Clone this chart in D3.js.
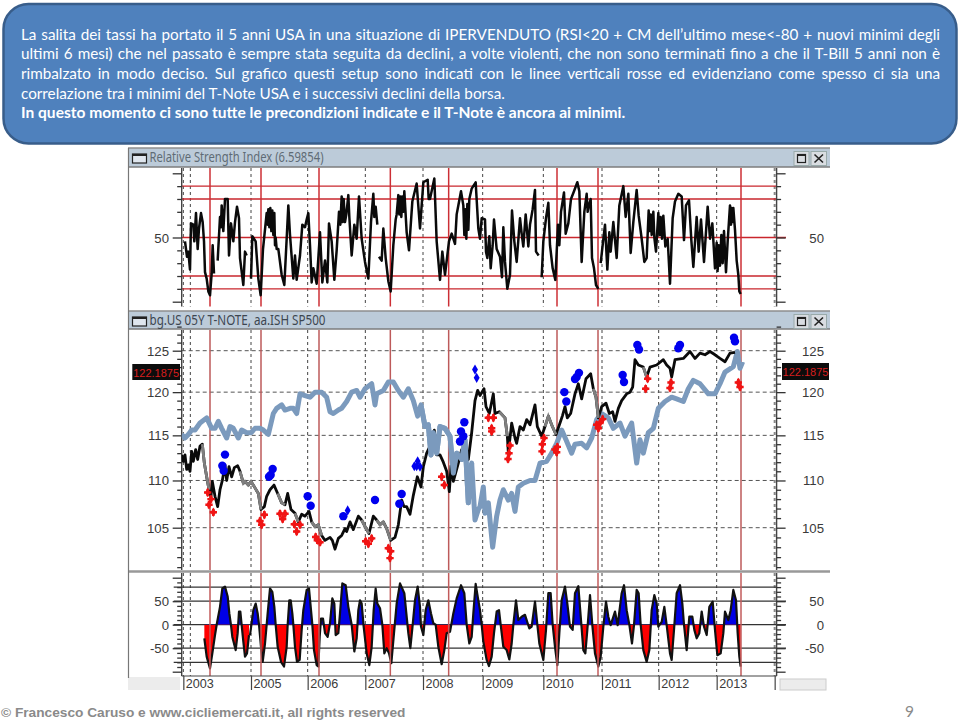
<!DOCTYPE html>
<html><head><meta charset="utf-8">
<script src="https://cdn.jsdelivr.net/npm/d3@7/dist/d3.min.js"></script>
<style>html,body{margin:0;padding:0;background:#fff}svg{display:block}</style>
</head><body><svg id="c" width="960" height="720"></svg>
<script>
const bannerLines = [
 "La salita dei tassi ha portato il 5 anni USA in una situazione di IPERVENDUTO (RSI<20 + CM dell’ultimo mese<-80 + nuovi minimi degli",
 "ultimi 6 mesi) che nel passato è sempre stata seguita da declini, a volte violenti, che non sono terminati fino a che il T-Bill 5 anni non è",
 "rimbalzato in modo deciso. Sul grafico questi setup sono indicati con le linee verticali rosse ed evidenziano come spesso ci sia una",
 "correlazione tra i minimi del T-Note USA e i successivi declini della borsa."];
const bannerBold = "In questo momento ci sono tutte le precondizioni indicate e il T-Note è ancora ai minimi.";
const footerText = "© Francesco Caruso e www.cicliemercati.it, all rights reserved";
const pageNumber = "9";
const rsiTitle = "Relative Strength Index (6.59854)";
const priceTitle = "bg.US 05Y T-NOTE, aa.ISH SP500";
const lastPrice = "122.1875";

// time axis: session number of each year start
const yearTicks = [[175,"2003"],[196,""],[378,"2005"],[548,"2006"],[721,"2007"],[894,"2008"],[1073,"2009"],[1255,"2010"],[1431,"2011"],[1601,"2012"],[1775,"2013"],[1949,""]];
const setupSessions = [255,408,582,796,971,1296,1419,1848];
const rsiLevels = [90,80,50,20,10];
const rsiTicks = [100,90,80,70,60,50,40,30,20,10,0];
const priceLabels = [125,120,115,110,105];
const priceMinor = [128,127,126,125,124,123,122,121,120,119,118,117,116,115,114,113,112,111,110,109,108,107,106,105,104,103,102,101];
const oscTicks = [100,90,80,70,60,50,40,30,20,10,0,-10,-20,-30,-40,-50,-60,-70,-80,-90,-100];
const oscLevels = [80,50,0,-50,-80];
const oscLabels = [50,0,-50];

// [session, value], null = gap
const rsiSeries = [[180,47],[186,35],[190,39],[195,25],[198,61],[205,60],[208,47],[213,69],[218,41],[222,57],[228,69],[233,62],[237,47],[240,23],[245,18],[250,8],[255,5],[260,22],[263,44],[267,22],null,[278,32],[285,66],[288,58],[290,75],[295,55],[300,80],[308,80],[312,36],[318,61],[325,47],[330,62],[336,74],[342,65],[345,34],[355,13],[360,39],[365,36],null,[378,18],[382,51],[392,47],[400,18],[407,5],[414,41],[425,69],[428,60],[430,72],[433,58],[436,73],[439,55],[442,71],[445,52],[448,69],[450,44],[452,50],[455,41],[460,41],[470,21],[478,13],[485,49],[490,75],[495,52],[505,18],[510,36],[515,17],[525,36],[532,60],[540,58],[545,64],[550,69],[555,44],[560,15],[565,26],[575,14],[585,54],[592,15],[600,32],[607,15],[612,61],[620,47],[628,17],[635,40],[642,70],[646,60],[650,82],[653,62],[656,80],[660,62],[664,68],[670,83],[673,66],[680,36],[688,60],[695,49],[702,82],[710,49],[720,31],[730,18],[738,62],[745,84],[748,66],[752,74],[757,60],null,[762,35],[770,32],[775,57],[782,34],[790,16],[797,8],[805,44],[812,64],[815,68],[820,83],[823,68],[826,82],[829,66],[832,82],[835,70],[838,86],[845,54],[852,40],[862,78],[875,92],[885,57],[895,93],[908,95],[911,80],[915,80],[928,96],[935,47],[945,17],[952,39],[960,21],[972,47],[980,53],[990,45],[995,68],[1000,75],[1008,86],[1015,75],[1018,52],[1021,72],[1024,49],[1027,76],[1030,56],[1033,80],[1040,88],[1052,93],[1060,57],[1065,49],[1070,65],[1080,64],[1083,39],[1087,34],[1093,51],[1097,26],[1103,44],[1107,64],[1115,41],[1125,35],[1131,19],[1135,58],[1140,31],[1147,10],[1155,21],[1161,71],[1168,47],[1175,31],[1185,65],[1190,53],[1195,43],[1202,68],[1210,43],[1215,60],[1223,72],[1230,87],[1233,39],[1241,36],null,[1250,19],[1255,47],[1263,65],[1270,77],[1275,44],[1283,26],[1291,17],[1299,60],[1303,44],[1308,70],[1317,85],[1322,53],[1330,61],[1338,80],[1347,86],[1357,93],[1363,86],[1370,31],[1378,70],[1385,84],[1388,70],[1390,73],[1397,80],[1401,34],[1407,26],[1413,13],[1420,10],null,[1427,30],[1433,44],[1440,60],[1447,25],[1453,54],[1457,39],[1465,62],[1475,34],[1483,75],[1495,90],[1502,66],[1510,84],[1517,38],[1525,62],[1535,87],[1541,67],[1550,49],[1558,31],[1565,34],[1571,71],[1574,55],[1577,68],[1580,52],[1585,70],[1588,50],[1593,39],[1600,69],[1604,52],[1607,66],[1611,49],[1615,67],[1621,43],[1628,49],[1635,14],[1643,65],[1650,78],[1660,84],[1670,82],[1677,48],[1683,75],[1692,79],[1699,48],[1705,27],[1715,66],[1721,39],[1728,64],[1737,31],[1748,74],[1755,49],[1762,61],[1770,26],[1775,46],[1778,24],[1781,44],[1785,28],[1789,52],[1793,30],[1797,55],[1803,23],[1808,47],[1815,75],[1818,60],[1820,73],[1823,62],[1825,73],[1830,56],[1835,32],[1840,21],[1843,8],[1847,6]];

const noteSeries = [[170,112.8],[175,112.1],[180,112.8],[185,111.2],[190,111.7],[195,111],[200,113.2],[205,112.1],[212,113.4],[218,112.3],[225,113.8],[232,114],[238,111.9],[245,110.4],[252,109],[258,108.3],[262,109.9],[270,108.3],[278,107.2],[285,109],[292,110],[300,111.7],[305,110],[312,111.5],[320,110.4],[328,111.4],[338,111.6],[345,111],[355,109.7],[360,109.9],[370,109.5],[378,109.9],[390,109.2],[400,108.6],[408,106.9],[418,107.2],[425,108.3],[435,109],[447,109.5],[458,108.6],[470,107.6],[480,107.4],[488,108.6],[498,106.9],[510,106.5],[520,105.6],[530,106.4],[540,106.2],[552,106.7],[560,105.6],[570,105.1],[580,105.3],[590,104.2],[600,103.7],[615,104],[622,103.7],[630,102.8],[640,103.9],[650,104.2],[660,104.9],[665,104.6],[675,105.6],[685,104.8],[700,106.2],[710,105.8],[725,104.8],[732,104.4],[745,106.2],[755,105.8],[765,105.3],[775,105.6],[785,104.9],[797,103.7],[810,104],[820,105.3],[830,107.9],[837,107.2],[845,107.2],[855,106.4],[865,108.4],[877,110.4],[888,109.3],[895,111.5],[905,113],[915,113.8],[928,115.6],[935,112.8],[945,112.8],[955,112],[965,111],[973,108.8],[978,111.6],[985,109.9],[1000,111.9],[1010,113.4],[1020,112.8],[1030,112.3],[1040,115.3],[1050,119],[1058,120.2],[1065,119.6],[1077,120.4],[1083,118.3],[1093,117.5],[1105,119.8],[1110,117.5],[1123,117.7],[1140,117],[1147,114.9],[1150,113],[1160,116.4],[1170,114.7],[1175,114.1],[1185,116],[1195,115.6],[1205,116.8],[1215,116.2],[1230,118.5],[1237,116],[1250,114.9],[1260,116],[1270,117.2],[1280,116.2],[1293,115.1],[1305,116.4],[1312,117.2],[1320,118.3],[1327,117],[1337,117.5],[1350,119.8],[1360,121],[1370,119.2],[1383,121.6],[1397,122.2],[1405,120.4],[1413,119.4],[1420,117],[1430,118.3],[1443,118.7],[1453,117.5],[1463,117.7],[1470,116.6],[1480,118.1],[1490,119],[1505,119.8],[1515,120],[1523,120.6],[1530,123.9],[1540,123.25],[1555,123],[1565,121.8],[1575,123],[1595,123.25],[1615,123.9],[1625,123.25],[1635,122.85],[1640,121.8],[1650,123.9],[1675,124.05],[1695,124.9],[1710,124.05],[1725,124.7],[1740,124.5],[1755,124.9],[1770,124.5],[1785,124.05],[1800,123.65],[1815,124.7],[1830,124.8]];

const noteFallingSpans = [[232,255],[345,408],[458,480],[510,520],[560,595],[710,732],[755,797],[1115,1147],[1260,1293],[1405,1421],[1545,1565]];

const indexSeries = [[170,115.1],[180,114.7],[190,115.1],[200,115.6],[210,115.6],[225,116.4],[245,117],[260,115.8],[270,115.8],[280,116.6],[290,115.8],[305,114.7],[315,116],[325,115.8],[340,114.7],[350,115.6],[365,115.3],[378,115.3],[390,115.8],[405,115.8],[415,115.6],[430,115.1],[445,117.5],[455,118.1],[470,118.5],[480,117.9],[495,118.1],[505,118.1],[515,117.5],[525,119.8],[540,119.6],[555,119.4],[570,120],[590,120],[605,119.4],[615,117.7],[625,117.5],[640,117.9],[650,118.1],[665,118.9],[680,120],[695,120.2],[705,119.4],[720,120.4],[740,121],[750,118.5],[755,119.8],[775,120.2],[790,121.2],[805,121.2],[820,120.2],[835,119.4],[850,120.4],[865,119],[878,117.2],[888,118.5],[900,116],[910,116.2],[918,112.8],[925,115.3],[935,113],[945,116],[960,115.8],[975,114.9],[985,110.8],[995,113],[1010,112.3],[1020,114.5],[1030,107.6],[1040,111.9],[1050,105.8],[1060,106.9],[1065,107.2],[1075,109.3],[1080,106.5],[1090,107.6],[1103,103],[1115,106.2],[1125,107.9],[1135,109],[1150,107.9],[1160,108.6],[1170,106.7],[1180,109.3],[1195,109.7],[1215,110],[1230,110],[1245,111.9],[1265,112.1],[1280,113],[1295,114.1],[1310,115.6],[1323,114.5],[1340,113],[1350,114],[1370,114.1],[1385,113.6],[1400,114.7],[1415,116.8],[1430,117.5],[1450,117],[1465,115.8],[1485,116.4],[1500,114.9],[1520,116.4],[1535,111.9],[1545,114.5],[1555,113],[1570,115.3],[1585,115.8],[1600,118.1],[1620,118.9],[1640,119.4],[1655,119.2],[1675,118.9],[1690,120.4],[1705,121.4],[1725,121],[1750,119.8],[1770,119.8],[1785,121],[1800,122.4],[1825,123.05],[1837,124.9],[1845,122.85],[1853,123.65]];

const oscSeries = [[238,-29],[245,-68],[255,-93],[262,-61],[270,-22],[275,0],[285,38],[292,77],[300,81],[308,60],[313,24],[318,-1],[322,-26],[332,-54],[338,-18],[342,28],[346,28],[350,-1],[355,-36],[360,-68],[366,-61],[372,-22],null,[375,-22],[385,31],[392,45],[398,24],[402,0],[408,-47],[413,-79],[420,-40],[428,24],[435,77],[442,70],[448,38],[452,0],[458,-47],[468,-79],[477,-89],[485,-47],[488,0],[493,52],[497,52],[502,24],[505,0],[510,-47],[516,-79],[524,-75],[530,-11],[535,31],[545,74],[552,77],[558,31],[562,0],[567,-54],[575,-86],[580,-89],[584,-26],[588,13],[594,13],[600,-18],[608,-26],[615,3],[622,56],[628,45],[632,-22],[640,-18],[645,24],[652,88],[662,84],[670,38],[680,0],[688,-57],[695,-29],[700,31],[705,52],[710,45],[716,-4],[725,-61],[733,-86],[740,-47],[746,31],[752,77],[757,45],[765,35],[772,0],[778,-61],[785,-50],[792,-61],[799,-82],[807,-18],[815,45],[825,88],[838,67],[845,17],[850,-18],[856,-50],[862,-8],[870,52],[878,81],[885,38],[888,-4],[895,-22],[902,31],[910,52],[918,24],[925,3],[932,0],[940,-47],[950,-84],[958,-54],[965,-18],[975,-15],[985,24],[995,56],[1008,84],[1018,67],[1025,0],[1033,-40],[1040,-26],[1045,24],[1052,87],[1058,60],[1065,31],[1070,0],[1075,-36],[1085,-75],[1092,-88],[1100,-68],[1107,-18],[1115,28],[1122,31],[1127,0],[1135,-47],[1145,-54],[1153,-74],[1160,-40],[1165,0],[1173,52],[1180,10],[1190,17],[1200,21],[1213,-8],[1220,-4],[1230,49],[1237,0],[1243,-40],[1255,-75],[1263,-11],[1270,67],[1277,67],[1283,0],[1290,-47],[1297,-86],[1303,-18],[1310,52],[1320,81],[1327,45],[1335,-4],[1343,-11],[1350,67],[1360,82],[1368,10],[1375,-54],[1381,-61],[1387,-11],[1395,63],[1402,-1],[1410,-61],[1420,-89],[1427,-68],[1435,-4],[1443,49],[1450,17],[1457,-1],[1470,28],[1478,-1],[1490,67],[1497,84],[1505,31],[1513,0],[1521,-40],[1527,-1],[1535,74],[1541,67],[1547,0],[1555,-54],[1565,-79],[1573,-54],[1580,31],[1588,63],[1595,45],[1600,-4],[1610,6],[1618,38],[1625,-1],[1635,-61],[1640,-75],[1647,-11],[1655,67],[1665,84],[1672,45],[1677,0],[1685,-54],[1693,17],[1702,17],[1708,-11],[1715,-29],[1723,-18],[1730,28],[1737,-4],[1745,-22],[1753,38],[1763,49],[1770,-11],[1777,-65],[1787,-61],[1795,-18],[1800,28],[1810,10],[1817,31],[1825,74],[1833,52],[1838,-18],[1843,-68],[1847,-89]];

const blueDots = [[300,112.84],[292,111.6],[296,111.05],[443,111.25],[437,110.6],[432,110.4],[548,108.3],[557,107.3],[655,106.2],[750,107.9],[830,108.55],[823,107.5],[1018,116.5],[1008,115.45],[1005,114.3],[1015,114.9],[1318,120],[1324,118.9],[1355,121.8],[1362,122.3],[1350,121.55],[1493,122.05],[1497,121.2],[1537,125.7],[1542,125.15],[1665,125.7],[1660,125.3],[1827,126.6],[1830,126.15]];
const blueDiamonds = [[668,106.8],[878,112.1],[875,111.55],[868,111.55],[885,111.5],[1050,122.7],[1055,121.7]];
const redMarks = [[248,108.7],[258,108],[252,107.4],[265,106.6],[405,105.7],[418,106.35],[410,105.3],[465,106.45],[480,106.45],[473,105.9],[508,105.35],[525,105.3],[515,104.6],[572,104.05],[585,103.5],[577,103.7],[722,103.6],[740,103.9],[730,103.35],[797,102.6],[795,101.9],[790,102.9],[950,110.4],[958,109.5],[1090,117],[1105,117],[1100,115.8],[1100,115.45],[1155,113.85],[1152,113],[1149,112.35],[1257,114.7],[1252,114],[1251,113.2],[1290,113.4],[1297,113.7],[1295,113.1],[1415,116.2],[1425,116.4],[1433,116.85],[1420,115.8],[1568,121.6],[1562,120.4],[1638,121.15],[1635,120.5],[1840,121.15],[1845,120.6]];

const svg = d3.select("#c");
const x = d3.scaleLinear().domain([0,3000]).range([125,1125]);
const yRsi = d3.scaleLinear().domain([0,100]).range([301.7,173.3]);
const yP = d3.scaleLog().domain([105,125]).range([527.7,350.7]);
const yO = d3.scaleLinear().domain([-100,100]).range([671.7,577.7]);
const L=181.7,R=776.6,font="'Liberation Sans',Arial,sans-serif";

// banner
svg.append("rect").attr("x",3.5).attr("y",4).attr("width",953).attr("height",139.5).attr("rx",25)
  .attr("fill","#4f81bd").attr("stroke","#385d8a").attr("stroke-width",2.5);
const bannerText=(txt,yy,weight)=>svg.append("text").attr("x",21).attr("y",yy).attr("font-family","Lato").attr("font-weight",weight).attr("font-size",14.4).attr("fill","#fff").text(txt);
const fit=(t,w)=>{const s=14.4*w/t.node().getComputedTextLength();t.attr("font-size",s);return s};
const t4=bannerText(bannerLines[3],98.5,400), bannerSize=fit(t4,484);
fit(bannerText(bannerBold,118,700),604);
[39.5,59,78.5].forEach((yy,i)=>{const t=bannerText(bannerLines[i],yy,400).attr("font-size",bannerSize);
  const n=bannerLines[i].split(" ").length-1;t.attr("word-spacing",(919-t.node().getComputedTextLength())/n)});

// panels background
svg.append("rect").attr("x",128).attr("y",677).attr("width",52).attr("height",13).attr("fill","#ececec");
svg.append("rect").attr("x",780).attr("y",679).attr("width",46).attr("height",11).attr("fill","#ececec").attr("stroke","#ccc");

function titlebar(y0,y1,txt,col,len){
  const g=svg.append("g");
  g.append("rect").attr("x",128).attr("y",y0).attr("width",702).attr("height",y1-y0).attr("fill","#bccbd9");
  g.append("line").attr("x1",128).attr("x2",830).attr("y1",y0).attr("y2",y0).attr("stroke","#8e8e8e").attr("stroke-width",1.5);
  g.append("line").attr("x1",128).attr("x2",830).attr("y1",y1).attr("y2",y1).attr("stroke","#7d7d7d").attr("stroke-width",1.5);
  g.append("rect").attr("x",132.5).attr("y",y0+6).attr("width",14).attr("height",9).attr("fill","#dfe6ee").attr("stroke","#222").attr("stroke-width",1.2);
  g.append("line").attr("x1",132.5).attr("x2",146.5).attr("y1",y0+7).attr("y2",y0+7).attr("stroke","#222").attr("stroke-width",2);
  g.append("text").attr("x",149.5).attr("y",y0+14).attr("font-family","'Noto Sans'").attr("font-size",14).attr("fill",col).attr("textLength",len).attr("lengthAdjust","spacingAndGlyphs").text(txt);
  g.append("rect").attr("x",794).attr("y",y0+3.5).attr("width",15).attr("height",14).attr("fill","#d9dde2").attr("stroke","#9aa");
  g.append("rect").attr("x",811).attr("y",y0+3.5).attr("width",15.5).attr("height",14).attr("fill","#d9dde2").attr("stroke","#9aa");
  g.append("rect").attr("x",797.5).attr("y",y0+6.5).attr("width",8).attr("height",8).attr("fill","none").attr("stroke","#222").attr("stroke-width",1.2);
  g.append("line").attr("x1",797.5).attr("x2",805.5).attr("y1",y0+7).attr("y2",y0+7).attr("stroke","#222").attr("stroke-width",2);
  g.append("path").attr("d",`M814.5 ${y0+6.5}L823 ${y0+14.5}M823 ${y0+6.5}L814.5 ${y0+14.5}`).attr("stroke","#222").attr("stroke-width",1.6).attr("fill","none");
}
titlebar(148,167,rsiTitle,"#5f6b75",174);
titlebar(311,329,priceTitle,"#3d4650",176);
svg.append("line").attr("x1",128).attr("x2",830).attr("y1",571.5).attr("y2",571.5).attr("stroke","#999").attr("stroke-width",2.5);
svg.append("line").attr("x1",128.5).attr("x2",128.5).attr("y1",148).attr("y2",678).attr("stroke","#777").attr("stroke-width",1.2);

const panels=[[168,306.5],[330,570],[573,676]];
panels.forEach(([a,b])=>{
  yearTicks.forEach(([s])=>svg.append("line").attr("x1",x(s)).attr("x2",x(s)).attr("y1",a).attr("y2",b)
    .attr("stroke",s==1949?"#888":"#444").attr("stroke-width",s==1949?2:1).attr("stroke-dasharray","3,3"));
});
rsiLevels.forEach(v=>svg.append("line").attr("x1",L).attr("x2",v==50?786:R).attr("y1",yRsi(v)).attr("y2",yRsi(v)).attr("stroke","#c9262c").attr("stroke-width",1.4));
priceLabels.forEach(v=>svg.append("line").attr("x1",L).attr("x2",R).attr("y1",yP(v)).attr("y2",yP(v)).attr("stroke","#555").attr("stroke-dasharray","4,3"));
oscLevels.forEach(v=>svg.append("line").attr("x1",L-8).attr("x2",Math.abs(v)==80?R:786).attr("y1",yO(v)).attr("y2",yO(v)).attr("stroke","#333").attr("stroke-width",1.2));

// y axes
function yAxis(scale,ticks,major,labels,y0,y1){
  [[L,"axisLeft",169,-1],[R,"axisRight",824,1]].forEach(([xx,kind,lx,dir])=>{
    const g=svg.append("g").attr("transform",`translate(${xx},0)`);
    g.call(d3[kind](scale).tickValues(ticks).tickSizeInner(4.5).tickSizeOuter(0).tickFormat(""));
    g.select("path").attr("d",`M0,${y0}V${y1}`).attr("stroke","#444").attr("stroke-width",1.4);
    g.selectAll(".tick line").attr("stroke","#333").attr("stroke-width",1.3).attr("x2",d=>dir*(major.includes(d)?9:4.5));
    labels.forEach(v=>svg.append("text").attr("x",lx).attr("y",scale(v)+5).attr("text-anchor","end").attr("font-family",font).attr("font-size",13.2).attr("fill","#3a3a3a").text(v));
  });
}
yAxis(yRsi,rsiTicks,[100,0,50],[50],168,306.5);
yAxis(yP,priceMinor,priceLabels,priceLabels,330,570);
yAxis(yO,oscTicks,[100,50,0,-50,-100],oscLabels,573,676);

// oscillator
const defs=svg.append("defs");
defs.append("clipPath").attr("id","up").append("rect").attr("x",L).attr("width",R-L).attr("y",573).attr("height",yO(0)-573);
defs.append("clipPath").attr("id","dn").append("rect").attr("x",L).attr("width",R-L).attr("y",yO(0)).attr("height",676-yO(0));
defs.append("clipPath").attr("id","pricePlot").append("rect").attr("x",L).attr("width",R-L).attr("y",330).attr("height",240);
const area=d3.area().defined(d=>d).x(d=>x(d[0])).y0(yO(0)).y1(d=>yO(d[1]));
svg.append("path").datum(oscSeries).attr("clip-path","url(#up)").attr("fill","#0000e6").attr("d",area);
svg.append("path").datum(oscSeries).attr("clip-path","url(#dn)").attr("fill","#ff0000").attr("d",area);
svg.append("path").datum(oscSeries).attr("fill","none").attr("stroke","#111").attr("stroke-width",2.2).attr("stroke-linejoin","round").attr("d",d3.line().defined(d=>d).x(d=>x(d[0])).y(d=>yO(d[1])));

// red setup verticals
const setupCols=["#cc2f35","#bd5a5a","#c25b5b"];
panels.forEach(([a,b],i)=>setupSessions.forEach(s=>svg.append("line").attr("x1",x(s)).attr("x2",x(s)).attr("y1",a).attr("y2",b).attr("stroke",setupCols[i]).attr("stroke-width",1.5)));

// RSI
svg.append("path").datum(rsiSeries).attr("fill","none").attr("stroke","#0a0a0a").attr("stroke-width",2.5).attr("stroke-linejoin","round").attr("d",d3.line().defined(d=>d).x(d=>x(d[0])).y(d=>yRsi(d[1])));

// price
const pLine=d3.line().x(d=>x(d[0])).y(d=>yP(d[1]));
const pricePlot=svg.append("g").attr("clip-path","url(#pricePlot)");
pricePlot.append("path").datum(indexSeries).attr("fill","none").attr("stroke","#7b9abd").attr("stroke-width",5).attr("stroke-linejoin","round").attr("d",pLine);
pricePlot.append("path").datum(noteSeries).attr("fill","none").attr("stroke","#0a0a0a").attr("stroke-width",2.8).attr("stroke-linejoin","round").attr("d",pLine);
noteFallingSpans.forEach(([a,b])=>pricePlot.append("path").datum(noteSeries.filter(d=>d[0]>=a&&d[0]<=b)).attr("fill","none").attr("stroke","#7f7f7f").attr("stroke-width",2.8).attr("d",pLine));
pricePlot.append("path").datum(indexSeries.filter(d=>d[0]>=880&&d[0]<=1040)).attr("fill","none").attr("stroke","#7b9abd").attr("stroke-width",5).attr("stroke-linejoin","round").attr("d",pLine);
pricePlot.selectAll(".bd").data(blueDots).join("circle").attr("cx",d=>x(d[0])).attr("cy",d=>yP(d[1])).attr("r",4.2).attr("fill","#0000ee");
pricePlot.selectAll(".bm").data(blueDiamonds).join("path").attr("transform",d=>`translate(${x(d[0])},${yP(d[1])})`).attr("d",d3.symbol(d3.symbolDiamond,30)).attr("fill","#0000ee");
const rm=pricePlot.selectAll(".rm").data(redMarks).join("g").attr("transform",d=>`translate(${x(d[0])},${yP(d[1])})`);
rm.append("path").attr("d",d3.symbol(d3.symbolCross,30)).attr("fill","#f01414");
rm.append("path").attr("d",d3.symbol(d3.symbolDiamond,26)).attr("fill","#f01414");

// last price boxes
[[132.3,180,364,380],[782,829,363,380]].forEach(([a,b,c,e])=>{
  svg.append("rect").attr("x",a).attr("y",c).attr("width",b-a).attr("height",e-c).attr("fill","#0c0c0c");
  svg.append("text").attr("x",(a+b)/2).attr("y",c+12.5).attr("text-anchor","middle").attr("font-family",font).attr("font-size",11).attr("fill","#d81e1e").text(lastPrice);
});

// time axis
const axisTicks=yearTicks.filter(d=>d[1]||d[0]==1949);
const xAxis=svg.append("g").attr("transform","translate(0,676)").call(d3.axisBottom(x).tickValues(axisTicks.map(d=>d[0])).tickSize(14).tickFormat(s=>yearTicks.find(d=>d[0]==s)[1]));
xAxis.select("path").attr("d",`M${L},0H${R}`).attr("stroke","#444");
xAxis.selectAll("line").attr("stroke","#444").attr("stroke-width",1.2);
xAxis.selectAll("text").attr("text-anchor","start").attr("x",2).attr("y",3).attr("dy","0.71em").attr("font-family",font).attr("font-size",12.6).attr("fill","#3a3a3a");

// footer
svg.append("text").attr("x",1).attr("y",716.5).attr("font-family",font).attr("font-weight",700).attr("font-size",13.7).attr("fill","#8a8a8a").text(footerText);
svg.append("text").attr("x",905).attr("y",716.5).attr("font-family","Lato").attr("font-size",15.5).attr("fill","#8a8a8a").text(pageNumber);
</script></body></html>
